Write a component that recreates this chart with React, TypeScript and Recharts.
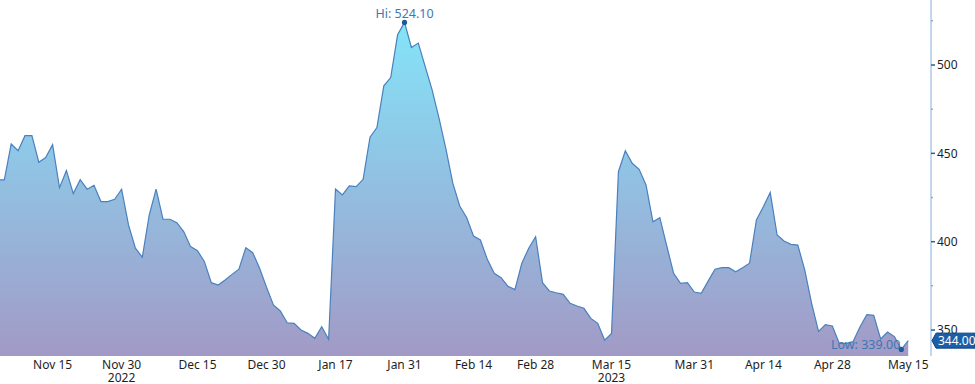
import React from 'react'
import { AreaChart, Area, XAxis, YAxis, ReferenceDot } from 'recharts'

// one value per trading day, Nov 3 2022 .. May 15 2023
const VALUES = [
  435.0, 435.0, 455.3, 451.5, 460.0, 460.0, 445.0, 447.6, 454.9, 430.6,
  440.2, 427.2, 435.1, 429.7, 431.9, 422.7, 422.7, 424.0, 429.7, 409.5,
  396.3, 391.2, 415.1, 429.7, 412.7, 412.7, 410.8, 405.7, 397.2, 394.9,
  388.7, 376.8, 375.5, 378.3, 381.5, 384.4, 396.6, 393.8, 385.0, 374.3,
  364.2, 360.8, 354.1, 353.8, 350.0, 348.1, 345.3, 351.9, 344.7, 429.8,
  426.5, 431.6, 431.2, 435.3, 459.1, 464.6, 488.2, 492.9, 517.1, 524.1,
  509.9, 512.4, 499.1, 485.9, 470.0, 452.5, 433.1, 420.2, 413.7, 403.2,
  401.0, 390.0, 382.1, 379.6, 374.7, 372.9, 387.8, 396.3, 402.8, 376.8,
  372.1, 371.1, 370.2, 365.1, 363.6, 362.3, 356.6, 353.8, 344.3, 348.1,
  439.6, 451.5, 444.4, 441.0, 432.1, 411.3, 413.6, 397.7, 382.1, 376.4,
  376.8, 371.5, 370.8, 377.7, 384.4, 385.3, 385.3, 383.0, 385.3, 387.8,
  412.3, 419.8, 427.8, 403.8, 400.4, 398.5, 398.1, 384.0, 365.1, 349.2,
  353.1, 352.3, 342.5, 342.5, 343.4, 351.7, 358.7, 358.3, 344.9, 348.9,
  346.3, 339.0, 344.0,
]

const TICK_IDX = [8, 18, 29, 39, 49, 59, 69, 78, 89, 101, 111, 121, 132]
const TICK_LABELS = ['Nov 15', 'Nov 30', 'Dec 15', 'Dec 30', 'Jan 17', 'Jan 31', 'Feb 14', 'Feb 28', 'Mar 15', 'Mar 31', 'Apr 14', 'Apr 28', 'May 15']
const YEAR_IDX = [18, 89]
const YEAR_LABELS = ['2022', '2023']
const Y_TICKS = [350, 375, 400, 425, 450, 475, 500, 525]

const FONT = '"Noto Sans", sans-serif'
const AXIS_X = 931
const AXIS_BLUE = '#86aedb'
const NOTE_BLUE = '#3e77b3'

const data = VALUES.map((v, i) => ({ i, v }))
const last = VALUES[VALUES.length - 1]
const hiIdx = VALUES.indexOf(Math.max(...VALUES))
const loIdx = VALUES.indexOf(Math.min(...VALUES))

function XTick({ x, payload }: any) {
  const k = TICK_IDX.indexOf(payload.value)
  const y = YEAR_IDX.indexOf(payload.value)
  return (
    <g fontFamily={FONT} fontSize={12} fill="#1e1e1e">
      <text x={x} y={369} textAnchor="middle">{TICK_LABELS[k]}</text>
      {y >= 0 && <text x={x} y={382} textAnchor="middle">{YEAR_LABELS[y]}</text>}
    </g>
  )
}

function YTick({ y, payload }: any) {
  const v = payload.value
  if (v === last) {
    return (
      <g fontFamily={FONT} fontSize={12}>
        <polygon
          points={`${AXIS_X + 1},${y} ${AXIS_X + 5},${y - 7.5} 975,${y - 7.5} 975,${y + 7.5} ${AXIS_X + 5},${y + 7.5}`}
          fill="#1c5ea8"
          stroke="#0f437f"
        />
        <text x={AXIS_X + 7} y={y} dy="0.36em" fill="#fff">{last.toFixed(2)}</text>
      </g>
    )
  }
  const major = v % 50 === 0
  return (
    <g>
      <line x1={AXIS_X} x2={AXIS_X + (major ? 4 : 2)} y1={y} y2={y} stroke={major ? '#2d5f9a' : AXIS_BLUE} strokeWidth={1.5} />
      {major && (
        <text x={AXIS_X + 6} y={y} dy="0.36em" fontFamily={FONT} fontSize={12} fill="#1e1e1e">{v}</text>
      )}
    </g>
  )
}

export default function App() {
  return (
    <div style={{ position: 'absolute', left: 0, top: 0, background: '#fff' }}>
      <AreaChart width={975} height={384} data={data} margin={{ top: 0, right: 0, left: 0, bottom: 0 }}>
        <defs>
          <linearGradient id="fillGrad" x1="0" y1="0" x2="0" y2="1">
            <stop offset="0%" stopColor="#84e4f8" />
            <stop offset="45%" stopColor="#91c2e3" />
            <stop offset="100%" stopColor="#a29ac6" />
          </linearGradient>
        </defs>
        <XAxis
          dataKey="i"
          type="number"
          domain={[0.377, 135.3]}
          allowDataOverflow
          ticks={TICK_IDX}
          interval={0}
          axisLine={false}
          tickLine={false}
          height={28}
          tick={<XTick />}
        />
        <YAxis
          orientation="right"
          width={44}
          domain={[335.3, 536.8]}
          allowDataOverflow
          ticks={[...Y_TICKS, last]}
          interval={0}
          axisLine={{ stroke: AXIS_BLUE }}
          tickLine={false}
          tick={<YTick />}
        />
        <Area
          type="linear"
          dataKey="v"
          stroke="#4a80bd"
          strokeWidth={1.2}
          fill="url(#fillGrad)"
          fillOpacity={1}
          isAnimationActive={false}
        />
        <ReferenceDot
          x={hiIdx}
          y={VALUES[hiIdx]}
          shape={(p: any) => (
            <g>
              <circle cx={p.cx} cy={p.cy} r={2.6} fill="#1f5a9c" />
              <text x={p.cx} y={p.cy - 4} textAnchor="middle" fontFamily={FONT} fontSize={12.5} fill={NOTE_BLUE}>
                Hi: {VALUES[hiIdx].toFixed(2)}
              </text>
            </g>
          )}
        />
        <ReferenceDot
          x={loIdx}
          y={VALUES[loIdx]}
          shape={(p: any) => (
            <g>
              <circle cx={p.cx} cy={p.cy} r={2.6} fill="#1f5a9c" />
              <text x={p.cx - 1} y={p.cy} textAnchor="end" fontFamily={FONT} fontSize={12.5} fill={NOTE_BLUE}>
                Low: {VALUES[loIdx].toFixed(2)}
              </text>
            </g>
          )}
        />
      </AreaChart>
    </div>
  )
}
